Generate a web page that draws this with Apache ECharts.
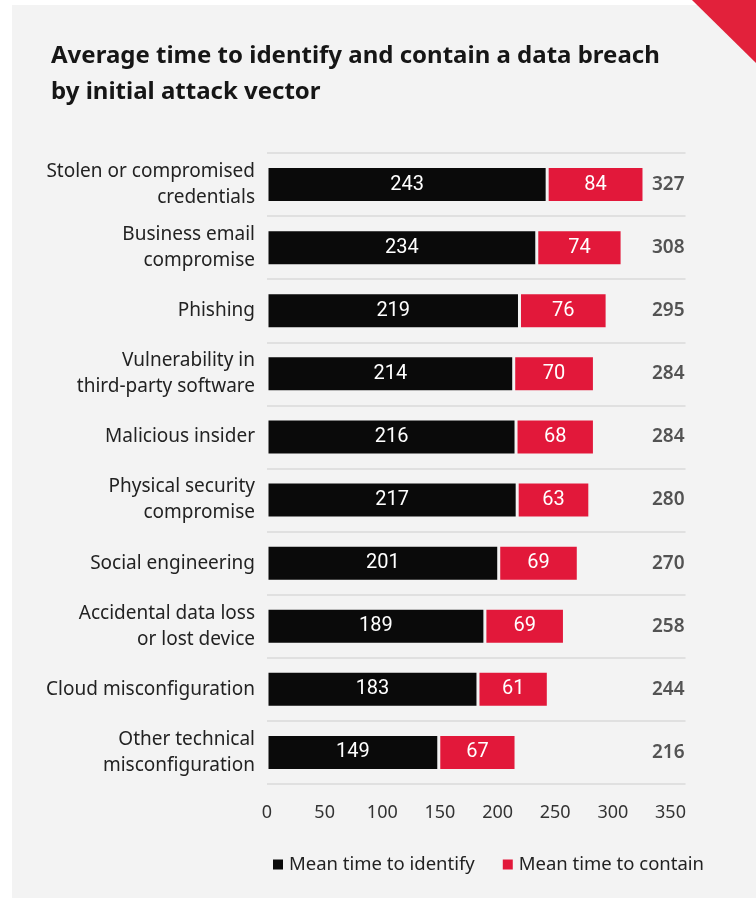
<!DOCTYPE html>
<html>
<head>
<meta charset="utf-8">
<script src="https://cdn.jsdelivr.net/npm/echarts@6/dist/echarts.min.js"></script>
<style>
html,body{margin:0;padding:0;background:#ffffff;}
#chart{width:756px;height:898px;}
</style>
</head>
<body>
<div id="chart"></div>
<script>
const categories = [
  "Stolen or compromised\ncredentials",
  "Business email\ncompromise",
  "Phishing",
  "Vulnerability in\nthird-party software",
  "Malicious insider",
  "Physical security\ncompromise",
  "Social engineering",
  "Accidental data loss\nor lost device",
  "Cloud misconfiguration",
  "Other technical\nmisconfiguration"
];
const identify = [243, 234, 219, 214, 216, 217, 201, 189, 183, 149];
const contain = [84, 74, 76, 70, 68, 63, 69, 69, 61, 67];
const totals = [327, 308, 295, 284, 284, 280, 270, 258, 244, 216];
const xTicks = [0, 50, 100, 150, 200, 250, 300, 350];
const seriesNames = ["Mean time to identify", "Mean time to contain"];

const BG = "#f3f3f3";
const FONT = "'Noto Sans', 'Open Sans', sans-serif";
const chart = echarts.init(document.getElementById('chart'), null, {renderer: 'canvas'});
const totalX = 348;

chart.setOption({
  backgroundColor: '#ffffff',
  animation: false,
  graphic: [
    {type: 'rect', z: -10, shape: {x: 12, y: 5, width: 744, height: 893}, style: {fill: BG}},
    {type: 'polygon', z: -9, shape: {points: [[692, 0], [756, 0], [756, 63]]}, style: {fill: '#e2213b'}}
  ],
  title: {
    text: 'Average time to identify and contain a data breach\nby initial attack vector',
    left: 46, top: 33,
    textStyle: {fontFamily: FONT, fontSize: 24, fontWeight: 'bold', color: '#161616', lineHeight: 36}
  },
  legend: {
    data: seriesNames,
    left: 266, top: 850,
    icon: 'rect', itemWidth: 12, itemHeight: 12, itemGap: 26,
    textStyle: {fontFamily: FONT, fontSize: 18.5, color: '#222'}
  },
  grid: {left: 267, top: 153, width: 418.5, height: 631, containLabel: false},
  xAxis: {
    type: 'value', min: 0, max: 363, interval: 50,
    axisLine: {show: false}, axisTick: {show: false}, splitLine: {show: false},
    axisLabel: {
      showMaxLabel: false, margin: 20,
      fontFamily: FONT, fontSize: 18, color: '#333',
      formatter: v => xTicks.includes(v) ? String(v) : ''
    }
  },
  yAxis: {
    type: 'category', data: categories, inverse: true,
    axisLine: {show: false}, axisTick: {show: false},
    splitLine: {show: true, lineStyle: {color: '#dadada', width: 1.5}},
    axisLabel: {margin: 12, fontFamily: FONT, fontSize: 19, color: '#222', lineHeight: 26, align: 'right'}
  },
  series: [
    {
      name: seriesNames[0], type: 'bar', stack: 'total', data: identify, barWidth: 36,
      itemStyle: {color: '#0a0a0a', borderColor: BG, borderWidth: 1.5},
      label: {show: true, position: 'inside', color: '#fff', fontFamily: 'Roboto, sans-serif', fontSize: 20}
    },
    {
      name: seriesNames[1], type: 'bar', stack: 'total', data: contain, barWidth: 36,
      itemStyle: {color: '#e2183a', borderColor: BG, borderWidth: 1.5},
      label: {show: true, position: 'inside', color: '#fff', fontFamily: 'Roboto, sans-serif', fontSize: 20}
    },
    {
      name: 'Total', type: 'scatter', symbolSize: 0, silent: true,
      data: totals.map((t, i) => [totalX, i, t]),
      label: {show: true, position: 'inside', formatter: p => p.value[2],
        fontFamily: FONT, fontSize: 19, fontWeight: 600, color: '#2a2a2a'}
    }
  ]
});
</script>
</body>
</html>
